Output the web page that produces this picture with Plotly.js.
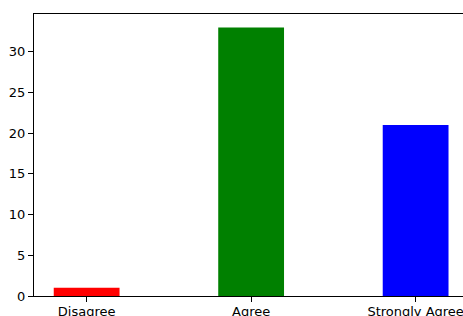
<!DOCTYPE html>
<html>
<head>
<meta charset="utf-8">
<script src="https://cdn.plot.ly/plotly-3.0.1.min.js"></script>
<style>html,body{margin:0;padding:0;overflow:hidden;background:#fff;}</style>
</head>
<body>
<div id="chart"></div>
<script>
const categories = ["Disagree", "Agree", "Strongly Agree"];
const counts = [1, 33, 21];
const barColors = ["red", "green", "blue"];
const yTicks = [0, 5, 10, 15, 20, 25, 30];

const trace = {
  type: "bar",
  x: categories,
  y: counts,
  width: categories.map(() => 0.4),
  marker: {color: barColors, line: {width: 0}},
  hoverinfo: "none"
};

const fontFam = "DejaVu Sans, sans-serif";
const layout = {
  width: 463, height: 316,
  margin: {l: 34, r: 0, t: 14, b: 20, pad: 0},
  paper_bgcolor: "#fff", plot_bgcolor: "#fff",
  showlegend: false,
  font: {family: fontFam, size: 13, color: "#000"},
  xaxis: {
    type: "category",
    range: [-0.32, 2.288],
    showgrid: false, zeroline: false,
    showline: true, linecolor: "#000", linewidth: 1, mirror: true,
    ticks: "outside", ticklen: 5, tickwidth: 1, tickcolor: "#000",
    ticklabelstandoff: -2,
    tickfont: {family: fontFam, size: 13, color: "#000"}
  },
  yaxis: {
    range: [0, 34.65],
    tickvals: yTicks,
    ticktext: yTicks.map(String),
    showgrid: false, zeroline: false,
    showline: true, linecolor: "#000", linewidth: 1, mirror: false,
    ticks: "outside", ticklen: 5, tickwidth: 1, tickcolor: "#000",
    tickfont: {family: fontFam, size: 13, color: "#000"}
  }
};

Plotly.newPlot("chart", [trace], layout, {staticPlot: true, displayModeBar: false});
</script>
</body>
</html>
